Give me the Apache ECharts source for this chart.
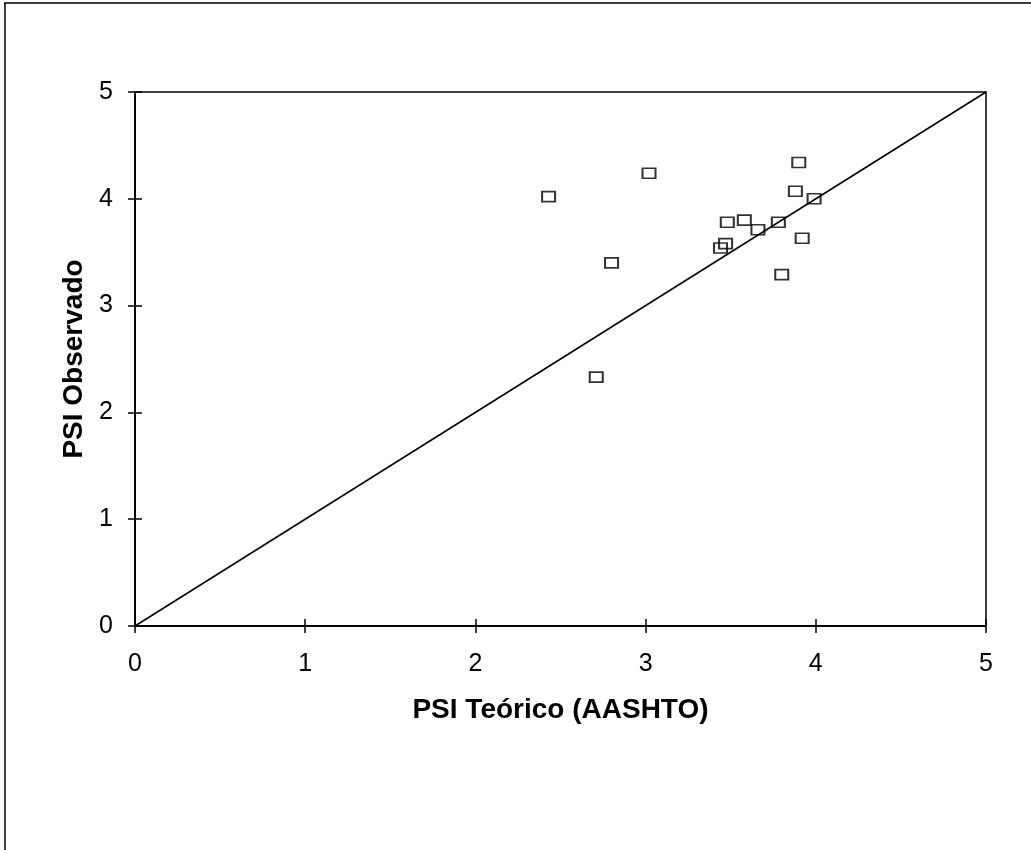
<!DOCTYPE html>
<html><head><meta charset="utf-8">
<script src="https://cdn.jsdelivr.net/npm/echarts@6/dist/echarts.min.js"></script>
<style>html,body{margin:0;padding:0;background:#fff}#c{width:1031px;height:850px}</style>
</head><body><div id="c"></div>
<script>
const psiTeorico = [2.43, 3.02, 2.80, 2.71, 3.90, 3.88, 3.99, 3.92, 3.80, 3.78, 3.66, 3.58, 3.48, 3.47, 3.44];
const psiObservado = [4.02, 4.24, 3.40, 2.33, 4.34, 4.07, 4.00, 3.63, 3.29, 3.78, 3.71, 3.80, 3.78, 3.58, 3.54];
const lineX = [0, 5];
const lineY = [0, 5];
const tickValues = [0, 1, 2, 3, 4, 5];

const chart = echarts.init(document.getElementById('c'));
const font = 'Liberation Sans, Arial, sans-serif';
const axisBase = {
  type: 'value', min: 0, max: 5, interval: 1,
  axisLine: {show: true, lineStyle: {color: '#000', width: 1.5}},
  splitLine: {show: false}
};
chart.setOption({
  animation: false,
  backgroundColor: '#fff',
  grid: {left: 135, right: 45, top: 92, bottom: 224, show: true, borderColor: '#000', borderWidth: 1.5, backgroundColor: 'transparent'},
  graphic: [
    {type: 'line', shape: {x1: 4, y1: 3, x2: 1031, y2: 3}, style: {stroke: '#000', lineWidth: 1.5}},
    {type: 'line', shape: {x1: 5, y1: 3, x2: 5, y2: 850}, style: {stroke: '#000', lineWidth: 1.5}}
  ],
  xAxis: [
    Object.assign({}, axisBase, {
      name: 'PSI Teórico (AASHTO)', nameLocation: 'middle', nameGap: 70,
      nameTextStyle: {fontFamily: font, fontSize: 28, fontWeight: 'bold', color: '#000'},
      axisTick: {show: true, length: 7, lineStyle: {color: '#000', width: 1.5}},
      axisLabel: {fontFamily: font, fontSize: 25, color: '#000', margin: 26,
        formatter: v => tickValues.includes(v) ? String(v) : ''}
    }),
    Object.assign({}, axisBase, {
      position: 'bottom',
      axisTick: {show: true, inside: true, length: 7, lineStyle: {color: '#000', width: 1.5}},
      axisLabel: {show: false}
    })
  ],
  yAxis: [
    Object.assign({}, axisBase, {
      name: 'PSI Observado', nameLocation: 'middle', nameGap: 45,
      nameTextStyle: {fontFamily: font, fontSize: 28, fontWeight: 'bold', color: '#000'},
      axisTick: {show: true, length: 7, lineStyle: {color: '#000', width: 1.5}},
      axisLabel: {fontFamily: font, fontSize: 25, color: '#000', margin: 22,
        formatter: v => tickValues.includes(v) ? String(v) : ''}
    }),
    Object.assign({}, axisBase, {
      position: 'left',
      axisTick: {show: true, inside: true, length: 7, lineStyle: {color: '#000', width: 1.5}},
      axisLabel: {show: false}
    })
  ],
  series: [
    {
      type: 'line', xAxisIndex: 0, yAxisIndex: 0,
      data: lineX.map((x, i) => [x, lineY[i]]),
      symbol: 'none', lineStyle: {color: '#000', width: 1.5}, z: 2
    },
    {
      type: 'scatter', xAxisIndex: 0, yAxisIndex: 0,
      data: psiTeorico.map((x, i) => [x, psiObservado[i]]),
      symbol: 'rect', symbolSize: [13, 10],
      itemStyle: {color: 'rgba(255,255,255,0)', borderColor: '#000', borderWidth: 1.8},
      z: 3
    }
  ]
});
</script></body></html>
